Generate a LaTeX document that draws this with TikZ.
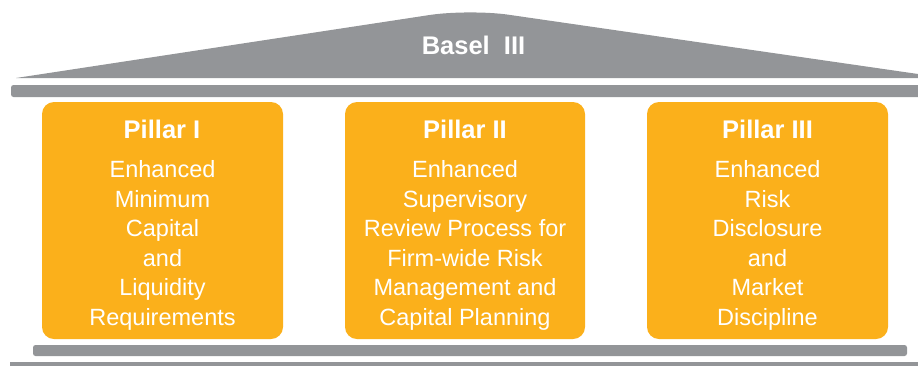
\documentclass[tikz,border=0pt]{standalone}
\usepackage{fontspec}
\setmainfont{Liberation Sans}
\definecolor{roofgray}{HTML}{939598}
\definecolor{pillarorange}{HTML}{FBB01B}
\tikzset{
  pillarbox/.style={fill=pillarorange, draw=none, rounded corners=12pt},
  barbox/.style={fill=roofgray, draw=none, rounded corners=2.5pt},
  titletext/.style={text=white, font=\fontsize{25.5}{30}\selectfont\bfseries, inner sep=0pt},
  bodytext/.style={text=white, font=\fontsize{23.5}{29.5}\selectfont, align=center, inner sep=0pt},
  rooftext/.style={text=white, font=\fontsize{25.5}{30}\selectfont\bfseries, inner sep=0pt}
}
\begin{document}
\begin{tikzpicture}[x=1pt,y=-1pt]
\useasboundingbox (0,0) rectangle (918,365);
% roof
\fill[roofgray] (16,78) [rounded corners=40pt] -- (469,9) [sharp corners] -- (918,74) -- (918,78) -- cycle;
\node[rooftext] (roof) at (473.5,45.5) {Basel\ \ III};
% top bar
\fill[barbox] (11,85) rectangle (930,97);
% pillars
\fill[pillarbox] (42,102) rectangle (283,339);
\fill[pillarbox] (345,102) rectangle (585,339);
\fill[pillarbox] (647,102) rectangle (888,339);
\node[titletext] (t1) at (162,129) {Pillar I};
\node[titletext] (t2) at (465,129) {Pillar II};
\node[titletext] (t3) at (767.5,129) {Pillar III};
\node[bodytext, anchor=north] (b1) at (162.5,160.5) {Enhanced\\Minimum\\Capital\\and\\Liquidity\\Requirements};
\node[bodytext, anchor=north] (b2) at (465,160.5) {Enhanced\\Supervisory\\Review Process for\\Firm-wide Risk\\Management and\\Capital Planning};
\node[bodytext, anchor=north] (b3) at (767.5,160.5) {Enhanced\\Risk\\Disclosure\\and\\Market\\Discipline};
% base bars
\fill[barbox] (33,345) rectangle (907,356);
\fill[roofgray] (10,362) rectangle (918,366);
\end{tikzpicture}
\end{document}
